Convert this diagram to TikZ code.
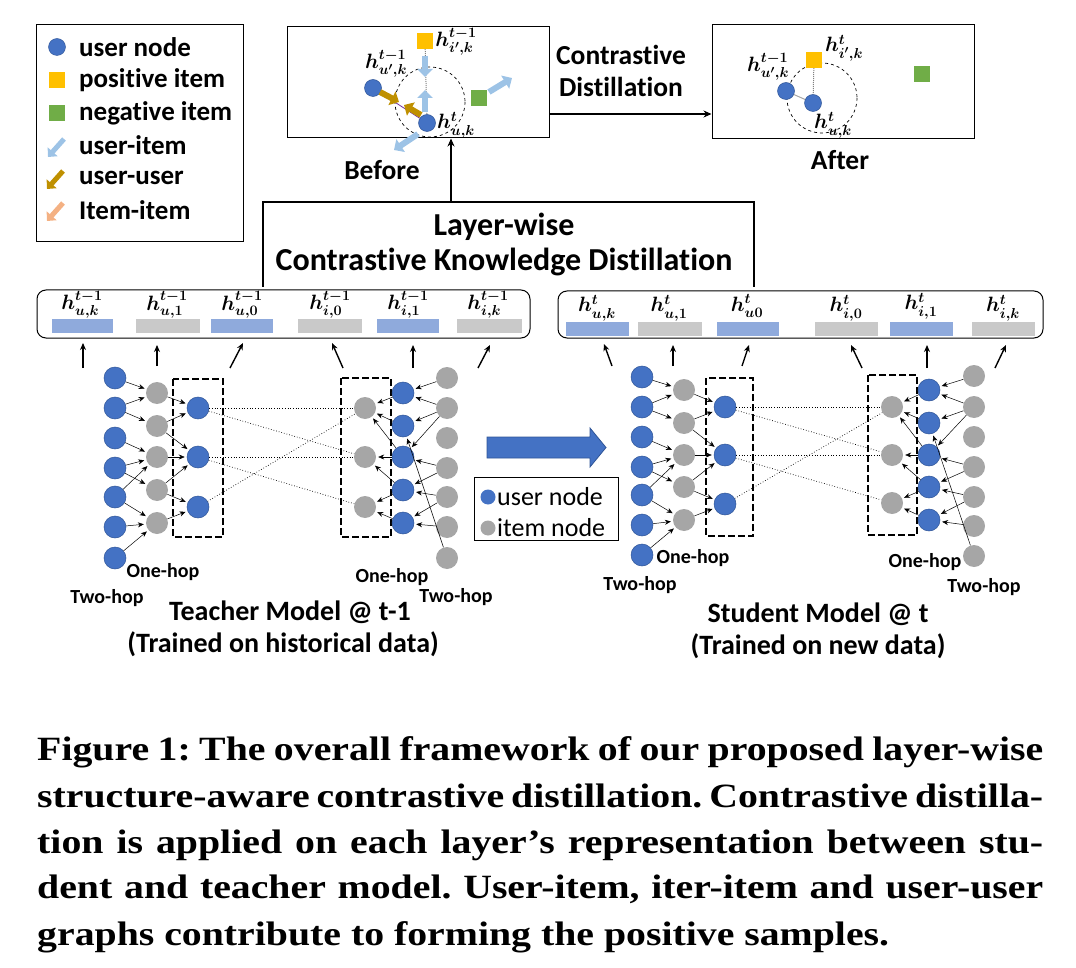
\documentclass[tikz,border=0pt]{standalone}
\usepackage{amsmath}
\usepackage{fontspec}
\setmainfont{Carlito}[Ligatures=CommonOff]
\newfontfamily\capfont{Liberation Serif}[FakeStretch=1.17]
\usetikzlibrary{arrows.meta}
\definecolor{ublue}{HTML}{4472C4}
\definecolor{ubluedark}{HTML}{2F5597}
\definecolor{igray}{HTML}{A6A6A6}
\definecolor{barblue}{HTML}{8FAADC}
\definecolor{bargray}{HTML}{C9C9C9}
\definecolor{pyellow}{HTML}{FFC000}
\definecolor{ngreen}{HTML}{70AD47}
\definecolor{lblue}{HTML}{9DC3E6}
\definecolor{brownar}{HTML}{BF9000}
\definecolor{salmon}{HTML}{F4B183}
\definecolor{purpleln}{HTML}{7030A0}
\newcommand\hh[2]{{\boldmath$h^{#2}_{#1}$}}
\newcommand\drawedges[1]{%
 \foreach \a/\b in {1/1,2/1,2/2,3/3,4/3,4/4,5/3,5/5,6/5,7/5} \draw[gedge] (#1a\a) -- (#1b\b);
 \foreach \a/\b in {1/1,2/1,2/2,3/2,4/2,4/3,5/3} \draw[gedge] (#1b\a) -- (#1c\b);
 \foreach \a/\b in {1/1,2/1,3/1,3/2,4/2,4/3,5/3} \draw[gedge] (#1e\a) -- (#1d\b);
 \foreach \a/\b in {1/1,2/1,2/2,2/3,4/3,4/4,5/4,5/5,6/5,7/2} \draw[gedge] (#1f\a) -- (#1e\b);
 \foreach \a/\b in {1/1,1/2,2/2,2/3,3/1} \draw[longedge] (#1c\a) -- (#1d\b);
}
\begin{document}
\frenchspacing
\begin{tikzpicture}[x=1pt,y=-1pt,
 unode/.style={circle, fill=ublue, draw=ubluedark, line width=0.5pt, minimum size=22pt, inner sep=0pt},
 inode/.style={circle, fill=igray, draw=none, minimum size=22pt, inner sep=0pt},
 snode/.style={circle, fill=ublue, draw=ubluedark, line width=0.5pt, minimum size=17pt, inner sep=0pt},
 sq/.style={rectangle, minimum size=16pt, inner sep=0pt},
 gedge/.style={-{Stealth[length=6pt,width=5pt]}, line width=0.5pt, shorten >=2pt},
 longedge/.style={dotted, line width=0.7pt},
 upar/.style={-{Stealth[length=7pt,width=6pt]}, line width=1.4pt},
 hopbox/.style={draw, line width=2.2pt, dash pattern=on 7pt off 3pt},
 blockar/.style={line width=6pt, -{Triangle[length=8pt,width=15pt]}},
 lbl/.style={font=\bfseries\fontsize{27.5}{31}\selectfont, inner sep=0pt},
 leg/.style={font=\bfseries\fontsize{27}{30}\selectfont, inner sep=0pt, anchor=west},
 ttl/.style={font=\bfseries\fontsize{28}{31}\selectfont, inner sep=0pt},
 hop/.style={font=\bfseries\fontsize{20}{22}\selectfont, inner sep=0pt},
 hl/.style={font=\fontsize{21.5}{22}\selectfont, inner sep=0pt},
 hlb/.style={font=\fontsize{22.5}{22}\selectfont, inner sep=0pt},
 capline/.style={anchor=base west, inner sep=0pt, font=\capfont\bfseries\fontsize{34}{40}\selectfont},
 bar/.style={draw=white, line width=0.6pt}
]
\useasboundingbox (0,0) rectangle (1076,968);

% ---------------- legend (top left)
\draw[line width=1pt] (36,25) rectangle (243,242);
\node[circle, fill=ublue, draw=ubluedark, minimum size=17pt, inner sep=0pt] (lg1) at (57,47) {};
\node[sq, fill=pyellow] (lg2) at (57,80) {};
\node[sq, fill=ngreen] (lg3) at (57,113) {};
\coordinate (lg4a) at (64,139); \coordinate (lg4b) at (48,157);
\coordinate (lg5a) at (63,171); \coordinate (lg5b) at (47,189);
\coordinate (lg6a) at (63,203); \coordinate (lg6b) at (47,221);
\draw[blockar, lblue, line width=5pt, -{Triangle[length=7pt,width=13pt]}] (lg4a) -- (lg4b);
\draw[blockar, brownar, line width=5pt, -{Triangle[length=7pt,width=13pt]}] (lg5a) -- (lg5b);
\draw[blockar, salmon, line width=5pt, -{Triangle[length=7pt,width=13pt]}] (lg6a) -- (lg6b);
\node[leg] (lt1) at (79,47) {user node};
\node[leg] (lt2) at (79,80) {positive item};
\node[leg] (lt3) at (79,113) {negative item};
\node[leg] (lt4) at (79,145) {user-item};
\node[leg] (lt5) at (79,178) {user-user};
\node[leg] (lt6) at (79,210) {Item-item};

% ---------------- Before box
\node[draw, line width=1pt, minimum width=262pt, minimum height=111pt, inner sep=0pt] (before) at (418,82.5) {};
\draw[dashed, line width=0.7pt] (430,102) circle (35);
\node[sq, fill=pyellow] (by) at (425,41) {};
\node[sq, fill=ngreen] (bg) at (479,98) {};
\node[snode] (bup) at (373,88) {};
\node[snode] (bu) at (427,123) {};
\draw[purpleln, line width=0.8pt] (bup) -- (bu);
\draw[gray, densely dotted, line width=1pt] (by) -- (bu);
\draw[blockar, lblue] (425,56) -- (425,77);
\draw[blockar, lblue] (425,112) -- (425,90);
\draw[blockar, lblue] (489,92) -- (512,78);
\draw[blockar, lblue] (418,134) -- (394,150);
\draw[blockar, brownar] (380,92) -- (399,102);
\draw[blockar, brownar] (421,115) -- (404,105);
\node[hlb] (lb1) at (456,42) {\hh{i',k}{t-1}};
\node[hlb] (lb2) at (386,64) {\hh{u',k}{t-1}};
\node[hlb] (lb3) at (456,125) {\hh{u,k}{t}};
\node[lbl] (beforet) at (382,170) {Before};

% ---------------- After box
\node[draw, line width=1pt, minimum width=262pt, minimum height=114pt, inner sep=0pt] (after) at (843,82) {};
\draw[dashed, line width=0.7pt] (822,98) circle (35);
\node[sq, fill=pyellow] (ay) at (814,60) {};
\node[sq, fill=ngreen] (ag) at (922,74) {};
\node[snode] (aup) at (786,91) {};
\node[snode] (au) at (813,103) {};
\draw[igray, line width=1pt] (aup) -- (au);
\draw[gray, densely dotted, line width=1pt] (ay) -- (au);
\node[hlb] (la1) at (844,48) {\hh{i',k}{t}};
\node[hlb] (la2) at (768,67) {\hh{u',k}{t-1}};
\node[hlb] (la3) at (833,125) {\hh{u,k}{t}};
\node[lbl] (aftert) at (840,160) {After};

% arrow between boxes
\coordinate (yline) at (0,114);
\draw[-{Stealth[length=8pt,width=7pt]}, line width=1.2pt] (before.east |- yline) -- (after.west |- yline);
\node[lbl, align=center] (cd) at (621,71) {Contrastive\\[1pt]Distillation};

% ---------------- bracket
\coordinate (brl) at (263,287); \coordinate (brr) at (754,287);
\coordinate (brtl) at (263,202); \coordinate (brtr) at (754,202);
\coordinate (brm) at (451,202);
\draw[line width=1.5pt] (brl) -- (brtl) -- (brtr) -- (brr);
\draw[-{Stealth[length=8pt,width=7pt]}, line width=1.4pt] (brm) -- (before.south -| brm);
\node[lbl, font=\bfseries\fontsize{32}{34}\selectfont] (lw1) at (504,227) {Layer-wise};
\node[lbl, font=\bfseries\fontsize{32}{34}\selectfont] (lw2) at (504,262) {Contrastive Knowledge Distillation};

% ---------------- layer strips
\draw[rounded corners=9pt, line width=1pt] (37,290) rectangle (530,338);
\draw[rounded corners=9pt, line width=1pt] (558,291) rectangle (1043,338);
\foreach \xa/\xb/\c in {51/113/barblue,135/200/bargray,210/273/barblue,297/362/bargray,376/439/barblue,456/522/bargray}
  \filldraw[bar, fill=\c] (\xa,318) rectangle (\xb,333);
\foreach \xa/\xb/\c in {565/629/barblue,637/702/bargray,716/779/barblue,814/878/bargray,889/953/barblue,971/1035/bargray}
  \filldraw[bar, fill=\c] (\xa,321) rectangle (\xb,336);
\node[hl] (tl1) at (82,305) {\hh{u,k}{t-1}};
\node[hl] (tl2) at (167,305) {\hh{u,1}{t-1}};
\node[hl] (tl3) at (242,305) {\hh{u,0}{t-1}};
\node[hl] (tl4) at (330,305) {\hh{i,0}{t-1}};
\node[hl] (tl5) at (408,305) {\hh{i,1}{t-1}};
\node[hl] (tl6) at (488,305) {\hh{i,k}{t-1}};
\node[hl] (sl1) at (597,308) {\hh{u,k}{t}};
\node[hl] (sl2) at (669,308) {\hh{u,1}{t}};
\node[hl] (sl3) at (747,306) {\hh{u0}{t}};
\node[hl] (sl4) at (846,308) {\hh{i,0}{t}};
\node[hl] (sl5) at (921,306) {\hh{i,1}{t}};
\node[hl] (sl6) at (1003,308) {\hh{i,k}{t}};

% up arrows
\foreach \xa/\ya/\xb/\yb in {83/368/83/343, 157/366/157/345, 230/368/243/343, 343/368/332/343, 413/368/413/345, 478/368/490/345,
  612/366/604/344, 673/366/673/345, 742/366/749/345, 862/368/851/345, 927/368/927/345, 995/368/1006/345}
  \draw[upar] (\xa,\ya) -- (\xb,\yb);

% ---------------- teacher graph
\draw[hopbox] (173,379) rectangle (223,537);
\draw[hopbox] (341,378) rectangle (391,537);
\foreach \y [count=\i] in {378,408,438,468,497,527,558} \node[unode] (ta\i) at (115,\y) {};
\foreach \y [count=\i] in {393,426,457,490,523} \node[inode] (tb\i) at (157,\y) {};
\foreach \y [count=\i] in {408,457,507} \node[unode] (tc\i) at (198,\y) {};
\foreach \y [count=\i] in {408,457,507} \node[inode] (td\i) at (365,\y) {};
\foreach \y [count=\i] in {393,426,457,490,523} \node[unode] (te\i) at (403,\y) {};
\foreach \y [count=\i] in {378,408,438,468,497,527,558} \node[inode] (tf\i) at (447,\y) {};
\drawedges{t}
\node[hop] (th1) at (163,572) {One-hop};
\node[hop] (th2) at (107,598) {Two-hop};
\node[hop] (th3) at (392,577) {One-hop};
\node[hop] (th4) at (456,597) {Two-hop};
\node[ttl] (tt1) at (290,612) {Teacher Model @ t-1};
\node[ttl] (tt2) at (283,644) {(Trained on historical data)};

% ---------------- student graph
\draw[hopbox] (706,378) rectangle (753,536);
\draw[hopbox] (868,375) rectangle (917,535);
\foreach \y [count=\i] in {377,407,437,467,495,525,555} \node[unode] (sa\i) at (642,\y) {};
\foreach \y [count=\i] in {390,423,455,487,520} \node[inode] (sb\i) at (684,\y) {};
\foreach \y [count=\i] in {407,455,504} \node[unode] (sc\i) at (725,\y) {};
\foreach \y [count=\i] in {407,455,503} \node[inode] (sd\i) at (892,\y) {};
\foreach \y [count=\i] in {390,423,455,487,520} \node[unode] (se\i) at (929,\y) {};
\foreach \y [count=\i] in {376,407,437,467,497,526,556} \node[inode] (sf\i) at (974,\y) {};
\drawedges{s}
\node[hop] (sh1) at (693,558) {One-hop};
\node[hop] (sh2) at (640,585) {Two-hop};
\node[hop] (sh3) at (925,562) {One-hop};
\node[hop] (sh4) at (984,587) {Two-hop};
\node[ttl] (st1) at (818,614) {Student Model @ t};
\node[ttl] (st2) at (818,646) {(Trained on new data)};

% ---------------- big arrow and middle legend
\filldraw[fill=ublue, draw=ubluedark, line width=0.8pt] (487,437) -- (590,437) -- (590,428) -- (606,447.5) -- (590,467) -- (590,458) -- (487,458) -- cycle;
\draw[line width=1pt] (474,477) rectangle (618,540);
\node[circle, fill=ublue, minimum size=15pt, inner sep=0pt] (ml1) at (488,497) {};
\node[circle, fill=igray, minimum size=15pt, inner sep=0pt] (ml2) at (488,528) {};
\node[font=\fontsize{26}{28}\selectfont, anchor=west, inner sep=0pt] (mt1) at (497,497) {user node};
\node[font=\fontsize{26}{28}\selectfont, anchor=west, inner sep=0pt] (mt2) at (497,528) {item node};

% ---------------- caption
\node[capline] (c1) at (37,760) {\hbox to 1006pt{Figure 1: The overall framework of our proposed layer-wise}};
\node[capline] (c2) at (37,807) {\hbox to 1006pt{structure-aware contrastive distillation. Contrastive distilla-}};
\node[capline] (c3) at (37,853) {\hbox to 1006pt{tion is applied on each layer’s representation between stu-}};
\node[capline] (c4) at (37,898) {\hbox to 1006pt{dent and teacher model. User-item, iter-item and user-user}};
\node[capline] (c5) at (37,945) {graphs contribute to forming the positive samples.};
\end{tikzpicture}
\end{document}
